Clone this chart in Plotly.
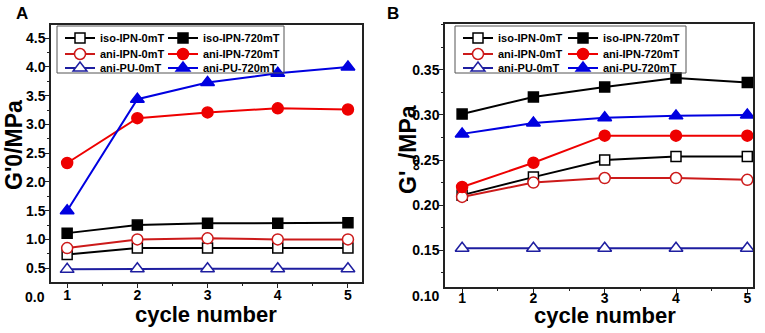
import plotly.graph_objects as go

W, H = 765, 333
cycles = [1, 2, 3, 4, 5]

# Panel A: G'0 (MPa)
a_iso_0 = [0.74, 0.85, 0.85, 0.85, 0.85]
a_iso_720 = [1.11, 1.25, 1.28, 1.28, 1.29]
a_ani_0 = [0.85, 1.00, 1.02, 1.00, 1.00]
a_ani_720 = [2.33, 3.11, 3.21, 3.28, 3.26]
a_pu_0 = [0.48, 0.49, 0.49, 0.49, 0.49]
a_pu_720 = [1.50, 3.44, 3.73, 3.89, 4.00]

# Panel B: G'inf (MPa)
b_iso_0 = [0.211, 0.231, 0.250, 0.254, 0.254]
b_iso_720 = [0.301, 0.320, 0.331, 0.341, 0.336]
b_ani_0 = [0.209, 0.225, 0.230, 0.230, 0.228]
b_ani_720 = [0.220, 0.247, 0.277, 0.277, 0.277]
b_pu_0 = [0.152, 0.152, 0.152, 0.152, 0.152]
b_pu_720 = [0.279, 0.291, 0.297, 0.299, 0.300]

names = ["iso-IPN-0mT", "iso-IPN-720mT", "ani-IPN-0mT", "ani-IPN-720mT",
         "ani-PU-0mT", "ani-PU-720mT"]

styles = [
    dict(color="#000000", symbol="square", size=10, fill="white"),
    dict(color="#000000", symbol="square", size=10, fill="#000000"),
    dict(color="#cc1a1a", symbol="circle", size=11, fill="white"),
    dict(color="#ee0000", symbol="circle", size=11, fill="#ee0000"),
    dict(color="#1e1ea0", symbol="triangle-up", size=12, fill="white"),
    dict(color="#0000e0", symbol="triangle-up", size=12, fill="#0000e0"),
]

def px(x):
    return x / W

def py(y):
    return 1 - y / H

fig = go.Figure()

A_series = [a_iso_0, a_iso_720, a_ani_0, a_ani_720, a_pu_0, a_pu_720]
B_series = [b_iso_0, b_iso_720, b_ani_0, b_ani_720, b_pu_0, b_pu_720]

for panel, series, xa, ya, base in [("A", A_series, "x", "y", 0), ("B", B_series, "x2", "y2", 3)]:
    for i, (nm, vals, st) in enumerate(zip(names, series, styles)):
        row = i // 2
        leg = "legend" if base + row == 0 else f"legend{base + row + 1}"
        fig.add_trace(go.Scatter(
            x=cycles, y=vals, name="<b>" + nm + "</b>", mode="lines+markers",
            xaxis=xa, yaxis=ya, legend=leg,
            legendwidth=(58 if base == 0 else 60) if i % 2 == 0 else None,
            line=dict(color=st["color"], width=2),
            marker=dict(symbol=st["symbol"], size=st["size"], color=st["fill"],
                        line=dict(color=st["color"], width=1.5)),
            cliponaxis=False,
        ))

tickfont = dict(family="Liberation Sans, Arial, sans-serif", size=14, color="black", weight="bold")
axis_common = dict(showline=True, linecolor="#222", linewidth=1.5, mirror=True,
                   ticks="outside", ticklen=4, tickwidth=1, tickcolor="#222",
                   showgrid=False, zeroline=False, tickfont=tickfont)

fig.update_layout(
    width=W, height=H, margin=dict(l=0, r=0, t=0, b=0),
    paper_bgcolor="white", plot_bgcolor="white", showlegend=True,
    font=dict(family="Liberation Sans, Arial, sans-serif"),
    xaxis=dict(domain=[px(51), px(362)], range=[0.77, 5.2], anchor="y",
               tickvals=cycles, ticklabelstandoff=-5,
               minor=dict(dtick=0.5, ticks="outside", ticklen=2, tickcolor="#222"),
               **axis_common),
    yaxis=dict(domain=[py(282), py(25)], range=[0.26, 4.73], anchor="x",
               tickvals=[0.5, 1.0, 1.5, 2.0, 2.5, 3.0, 3.5, 4.0, 4.5],
               ticktext=["0.5", "1.0", "1.5", "2.0", "2.5", "3.0", "3.5", "4.0", "4.5"],
               ticklabelstandoff=-3,
               minor=dict(dtick=0.25, ticks="outside", ticklen=2, tickcolor="#222"),
               **axis_common),
    xaxis2=dict(domain=[px(445), px(753)], range=[0.76, 5.08], anchor="y2",
                tickvals=cycles, ticklabelstandoff=-7,
                minor=dict(dtick=0.5, ticks="outside", ticklen=2, tickcolor="#222"),
                **axis_common),
    yaxis2=dict(domain=[py(287), py(24)], range=[0.109, 0.401], anchor="x2",
                tickvals=[0.15, 0.20, 0.25, 0.30, 0.35],
                ticktext=["0.15", "0.20", "0.25", "0.30", "0.35"],
                ticklabelstandoff=-3,
                minor=dict(dtick=0.025, tick0=0.1, ticks="outside", ticklen=2, tickcolor="#222"),
                **axis_common),
)

legfont = dict(family="Liberation Sans, Arial, sans-serif", size=11, color="black")
rows_y = [38, 54, 68]
leg_x = {0: 60, 3: 458}
for base in (0, 3):
    for r in range(3):
        key = "legend" if base + r == 0 else f"legend{base + r + 1}"
        fig.update_layout({key: dict(
            orientation="h", x=px(leg_x[base]), y=py(rows_y[r]), xanchor="left", yanchor="middle",
            bgcolor="rgba(0,0,0,0)", borderwidth=0, font=legfont,
            itemwidth=30, tracegroupgap=0, traceorder="normal")})

# legend boxes
fig.add_shape(type="rect", xref="paper", yref="paper", x0=px(57), x1=px(284), y0=py(73), y1=py(26),
              line=dict(color="#555", width=1))
fig.add_shape(type="rect", xref="paper", yref="paper", x0=px(455), x1=px(686), y0=py(73), y1=py(26),
              line=dict(color="#555", width=1))

ann_font = dict(family="Liberation Sans, Arial, sans-serif", color="black", weight="bold")
annotations = [
    dict(text="A", x=px(22), y=py(13), font=dict(size=17, **ann_font)),
    dict(text="B", x=px(393), y=py(13), font=dict(size=17, **ann_font)),
    dict(text="G'0/MPa", x=px(14), y=py(145), textangle=-90, font=dict(size=23, **ann_font)),
    dict(text="G'<sub>∞</sub>/MPa", x=px(409), y=py(150), textangle=-90, font=dict(size=23, **ann_font)),
    dict(text="cycle number", x=px(206), y=py(314), font=dict(size=22, **ann_font)),
    dict(text="cycle number", x=px(605), y=py(315), font=dict(size=22, **ann_font)),
    dict(text="0.0", x=px(47), y=py(297), xanchor="right", font=dict(size=14, **ann_font)),
    dict(text="0.10", x=px(441), y=py(296), xanchor="right", font=dict(size=14, **ann_font)),
]
for a in annotations:
    a.setdefault("xanchor", "center")
    fig.add_annotation(xref="paper", yref="paper", showarrow=False, yanchor="middle", **a)

fig.write_html("out.html", config={"displayModeBar": False},
               post_script="document.body.style.margin='0';document.body.style.padding='0';")
